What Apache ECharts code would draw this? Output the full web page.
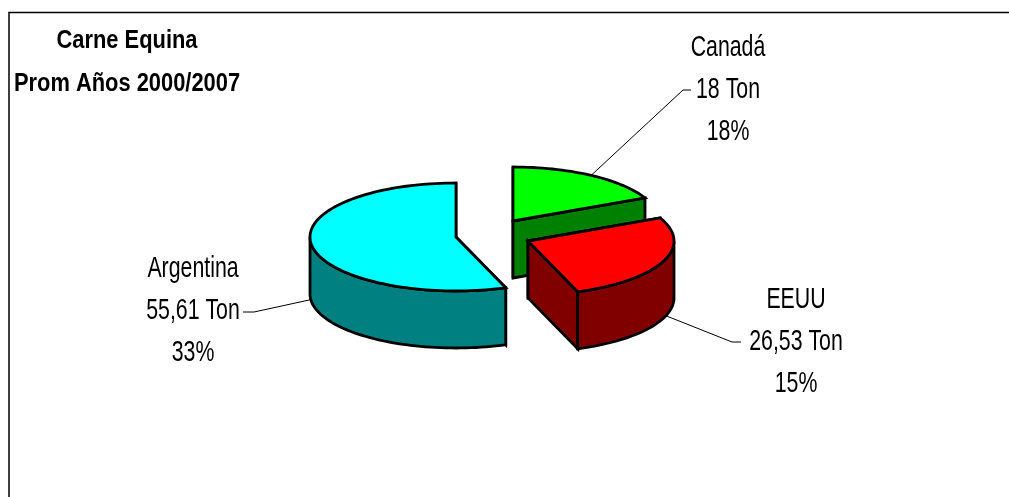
<!DOCTYPE html>
<html>
<head>
<meta charset="utf-8">
<style>html,body{margin:0;padding:0;background:#fff}#chart{width:1009px;height:497px}</style>
<script src="https://cdn.jsdelivr.net/npm/echarts@6/dist/echarts.min.js"></script>
</head>
<body>
<div id="chart"></div>
<script>
// Data
const categories = ['Canadá', 'EEUU', 'Argentina'];
const values = [18, 26.53, 55.61];
const percentLabels = ['18%', '15%', '33%'];
const titleLines = ['Carne Equina', 'Prom Años 2000/2007'];

// Style / layout
const topColors = ['#00FF00', '#FF0000', '#00FFFF'];
const sideColors = ['#008000', '#800000', '#008080'];
const apexes = [[513, 221], [528, 241], [456, 237]];
const elbows = [[[683, 90], [691, 90]], [[732, 342], [741, 342]], [[254, 312], [243, 312]]];
const labelCenters = [[728, 48], [796, 300], [193, 269]];
const labelGap = 42;
const RX = 146, RY = 54, DEPTH = 57;
const LABEL_FONT = '29px "Liberation Sans", Arial, sans-serif';
const TITLE_FONT = 'bold 25px "Liberation Sans", Arial, sans-serif';

const total = values.reduce((a, b) => a + b, 0);
const fmt = v => String(v).replace('.', ',') + ' Ton';
const rad = d => d * Math.PI / 180;
const rim = (c, d, dz) => [c[0] + RX * Math.sin(rad(d)), c[1] - RY * Math.cos(rad(d)) + (dz || 0)];
const arc = (c, a, b, dz) => {
  const pts = [], n = Math.max(2, Math.ceil(Math.abs(b - a) / 2));
  for (let i = 0; i <= n; i++) pts.push(rim(c, a + (b - a) * i / n, dz));
  return pts;
};
const startAngle = i => values.slice(0, i).reduce((a, b) => a + b, 0) / total * 360;

function renderItem(params, api) {
  const i = params.dataIndex;
  const a0 = startAngle(i), a1 = a0 + api.value(0) / total * 360;
  const c = apexes[i];
  const edge = { stroke: '#000', lineWidth: 2.8, lineJoin: 'miter' };
  const kids = [];
  const face = (pts, fill) => kids.push({ type: 'polygon', shape: { points: pts }, style: Object.assign({ fill }, edge) });
  const cd = [c[0], c[1] + DEPTH];
  // radial walls, then outer wall, then the top
  [a0, a1].forEach(a => {
    const r = rim(c, a);
    face([c, r, [r[0], r[1] + DEPTH], cd], sideColors[i]);
  });
  const w0 = Math.max(a0, 90), w1 = Math.min(a1, 270);
  if (w1 > w0) face(arc(c, w0, w1).concat(arc(c, w1, w0, DEPTH)), sideColors[i]);
  face([c].concat(arc(c, a0, a1)), topColors[i]);

  // leader line
  const mid = (a0 + a1) / 2;
  const anchor = rim(c, mid, (mid > 90 && mid < 270) ? DEPTH * 0.93 : 0);
  kids.push({ type: 'polyline', z2: -1, shape: { points: [anchor].concat(elbows[i]) }, style: { stroke: '#000', lineWidth: 1, fill: null } });

  // label
  [categories[i], fmt(api.value(0)), percentLabels[i]].forEach((t, k) => {
    kids.push({
      type: 'text', x: labelCenters[i][0], y: labelCenters[i][1] + k * labelGap, scaleX: 0.735,
      style: { text: t, x: 0, y: 0, align: 'center', verticalAlign: 'middle', font: LABEL_FONT, fill: '#000' }
    });
  });
  return { type: 'group', children: kids };
}

const chart = echarts.init(document.getElementById('chart'), null, { renderer: 'canvas' });
chart.setOption({
  animation: false,
  backgroundColor: '#fff',
  graphic: [
    { type: 'polyline', silent: true, shape: { points: [[9, 497], [9, 12.5], [1009, 12.5]] }, style: { stroke: '#000', lineWidth: 1.5, fill: null } },
    { type: 'text', x: 127, y: 41, scaleX: 0.875, silent: true, style: { text: titleLines[0], x: 0, y: 0, align: 'center', verticalAlign: 'middle', font: TITLE_FONT, fill: '#000' } },
    { type: 'text', x: 127, y: 84, scaleX: 0.875, silent: true, style: { text: titleLines[1], x: 0, y: 0, align: 'center', verticalAlign: 'middle', font: TITLE_FONT, fill: '#000' } }
  ],
  series: [{
    type: 'custom',
    coordinateSystem: 'none',
    silent: true,
    renderItem,
    data: values.map((v, i) => ({ name: categories[i], value: [v] }))
  }]
});
</script>
</body>
</html>
